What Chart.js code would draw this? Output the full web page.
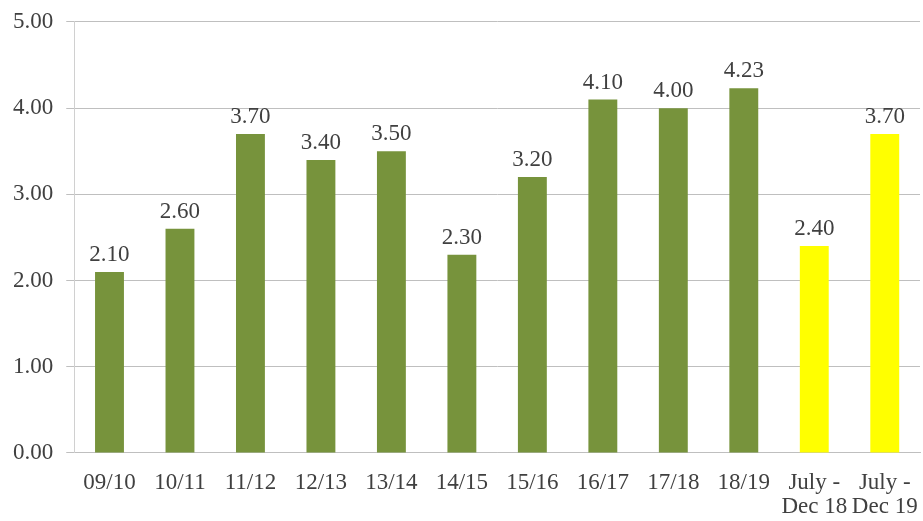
<!DOCTYPE html>
<html>
<head>
<meta charset="utf-8">
<script src="https://cdn.jsdelivr.net/npm/chart.js@4"></script>
<style>
  body { margin: 0; background: #fff; }
</style>
</head>
<body>
<canvas id="myChart" width="923" height="521"></canvas>
<script>
const categories = ["09/10", "10/11", "11/12", "12/13", "13/14", "14/15", "15/16", "16/17", "17/18", "18/19", ["July -", "Dec 18"], ["July -", "Dec 19"]];
const values = [2.1, 2.6, 3.7, 3.4, 3.5, 2.3, 3.2, 4.1, 4.0, 4.23, 2.4, 3.7];
const barColors = ["#77933C", "#77933C", "#77933C", "#77933C", "#77933C", "#77933C", "#77933C", "#77933C", "#77933C", "#77933C", "#FFFF00", "#FFFF00"];

const valueLabels = {
  id: "valueLabels",
  afterDatasetsDraw(chart) {
    const ctx = chart.ctx;
    const meta = chart.getDatasetMeta(0);
    ctx.save();
    ctx.font = "23px 'Liberation Serif'";
    ctx.fillStyle = "#404040";
    ctx.textAlign = "center";
    ctx.textBaseline = "alphabetic";
    meta.data.forEach((bar, i) => {
      ctx.fillText(values[i].toFixed(2), bar.x, bar.y - 11);
    });
    ctx.restore();
  },
};

const ctx = document.getElementById("myChart").getContext("2d");
const myChart = new Chart(ctx, {
  type: "bar",
  data: {
    labels: categories,
    datasets: [
      {
        data: values,
        backgroundColor: barColors,
        categoryPercentage: 1,
        barPercentage: 0.41,
      },
    ],
  },
  options: {
    responsive: false,
    animation: false,
    layout: { padding: { top: 0, right: 3, left: 0, bottom: 0 } },
    plugins: {
      legend: { display: false },
      tooltip: { enabled: false },
    },
    scales: {
      x: {
        grid: {
          display: true,
          drawOnChartArea: false,
          drawTicks: true,
          tickLength: 16,
          tickColor: "rgba(0,0,0,0)",
        },
        border: { color: "#bfbfbf" },
        ticks: {
          color: "#404040",
          font: { family: "'Liberation Serif'", size: 23, lineHeight: 1.045 },
          maxRotation: 0,
          autoSkip: false,
          padding: 2,
        },
      },
      y: {
        min: 0,
        max: 5,
        ticks: {
          stepSize: 1,
          color: "#404040",
          font: { family: "'Liberation Serif'", size: 23, lineHeight: 0.78 },
          padding: 13,
          callback: (v) => v.toFixed(2),
        },
        grid: { color: "#bfbfbf", tickLength: 8 },
        border: { color: "#d0d0d0" },
      },
    },
  },
  plugins: [valueLabels],
});
</script>
</body>
</html>
